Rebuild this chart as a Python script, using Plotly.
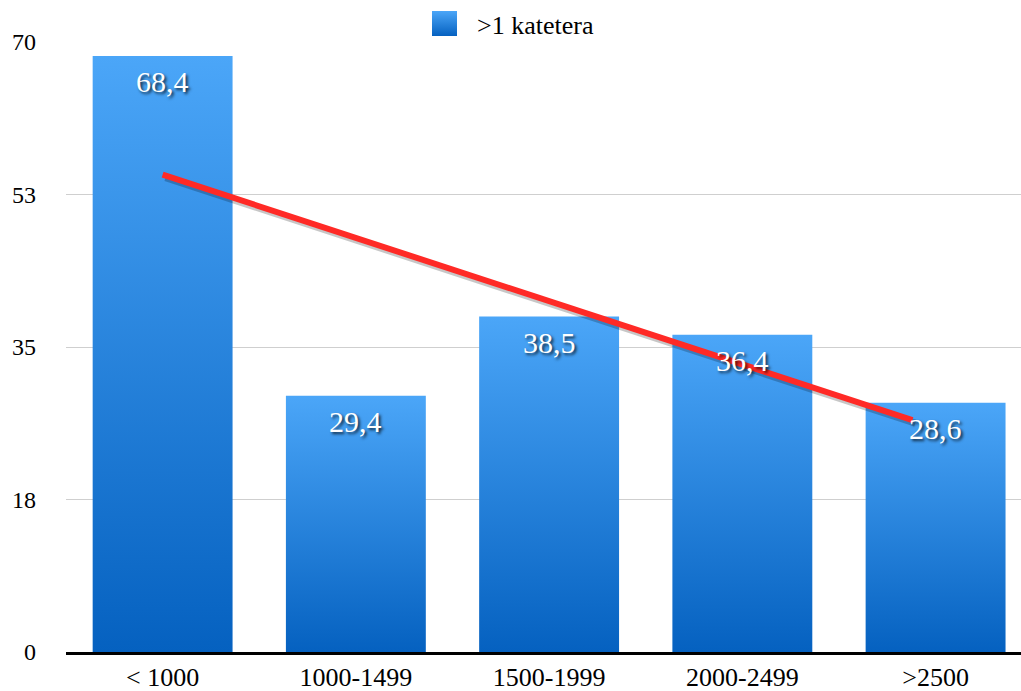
import numpy as np
import plotly.graph_objects as go

categories = ["< 1000", "1000-1499", "1500-1999", "2000-2499", ">2500"]
values = [68.4, 29.4, 38.5, 36.4, 28.6]
value_labels = ["68,4", "29,4", "38,5", "36,4", "28,6"]
series_name = ">1 katetera"
y_tickvals = [0, 17.5, 35, 52.5, 70]
y_ticktext = ["0", "18", "35", "53", "70"]

W, H = 1021, 691
ML, MR, MB = 66, 0, 39
PLOT_TOP = 42          # pixel row of the y=70 gridline
BAR_W = 0.724
X_RANGE = [-0.5, 4.442]
Y_RANGE = [0, 70]
DARK, LIGHT = "#0561c0", "#4ba6f8"
FONT = "Liberation Serif, Times New Roman, serif"

PAPER_H = H - MB                     # paper area (top margin is 0)
PLOT_FRAC = (PAPER_H - PLOT_TOP) / PAPER_H

fig = go.Figure()
xs = np.arange(len(categories))

# bars as gradient-filled polygons
for i, v in enumerate(values):
    x0, x1 = i - BAR_W / 2, i + BAR_W / 2
    fig.add_trace(go.Scatter(
        x=[x0, x1, x1, x0, x0], y=[0, 0, v, v, 0],
        mode="lines", fill="toself", line=dict(width=0),
        fillgradient=dict(type="vertical", colorscale=[[0, DARK], [1, LIGHT]]),
        hoverinfo="skip", showlegend=False))

# linear trend line
slope, intercept = np.polyfit(xs, values, 1)
tx = np.array([0.0, 3.88])
ty = intercept + slope * tx
fig.add_trace(go.Scatter(x=tx + 0.015, y=ty - 0.35, mode="lines",
                         line=dict(color="rgba(0,0,0,0.22)", width=7),
                         hoverinfo="skip", showlegend=False))
fig.add_trace(go.Scatter(x=tx, y=ty, mode="lines",
                         line=dict(color="#ff2a26", width=6),
                         hoverinfo="skip", showlegend=False))

# legend swatch on a strip axis above the plot (pixel-based ranges)
fig.add_trace(go.Scatter(
    x=[444.5], y=[23.5], xaxis="x2", yaxis="y2",
    mode="markers", cliponaxis=False,
    marker=dict(symbol="square", size=25, color=LIGHT,
                gradient=dict(type="vertical", color=DARK), line=dict(width=0)),
    hoverinfo="skip", showlegend=False))

annotations = []
for i, (v, t) in enumerate(zip(values, value_labels)):
    annotations.append(dict(
        x=i, y=v, xref="x", yref="y", text=t, showarrow=False,
        yanchor="middle", xanchor="center", yshift=-26,
        font=dict(family=FONT, size=30, color="white",
                  shadow="2px 2px 3px rgba(0,0,0,0.75)")))
annotations.append(dict(
    x=475, y=25, xref="x2", yref="y2", text=series_name, showarrow=False,
    xanchor="left", yanchor="middle",
    font=dict(family=FONT, size=26, color="black")))

fig.update_layout(
    template="none",
    width=W, height=H,
    margin=dict(l=ML, r=MR, t=0, b=MB, pad=0, autoexpand=False),
    paper_bgcolor="white", plot_bgcolor="white",
    showlegend=False,
    font=dict(family=FONT, color="black"),
    annotations=annotations,
    xaxis=dict(range=X_RANGE, tickmode="array", tickvals=list(xs),
               ticktext=categories, showgrid=False, zeroline=False,
               showline=True, linecolor="black", linewidth=3,
               ticks="", ticklabelstandoff=0, automargin=False,
               tickfont=dict(family=FONT, size=26, color="black")),
    yaxis=dict(range=Y_RANGE, domain=[0, PLOT_FRAC], tickmode="array",
               tickvals=y_tickvals, ticktext=y_ticktext, showgrid=True,
               gridcolor="#cfcfcf", gridwidth=1, zeroline=False,
               showline=False, ticks="", ticklabelstandoff=29,
               automargin=False,
               tickfont=dict(family=FONT, size=24, color="black")),
    xaxis2=dict(range=[ML, W - MR], domain=[0, 1], anchor="y2",
                visible=False, fixedrange=True),
    yaxis2=dict(range=[PLOT_TOP, 0], domain=[PLOT_FRAC, 1], anchor="x2",
                visible=False, fixedrange=True),
)

fig.write_html("out.html",
               config={"displayModeBar": False},
               post_script="document.body.style.margin='0';"
                           "document.body.style.overflow='hidden';")
